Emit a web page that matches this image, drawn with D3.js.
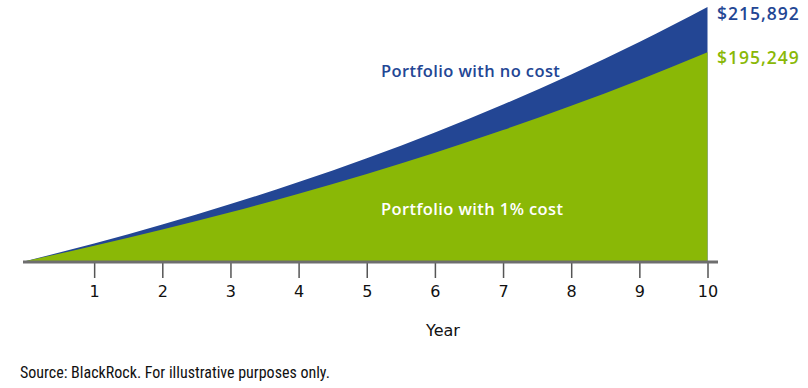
<!DOCTYPE html>
<html>
<head>
<meta charset="utf-8">
<script src="https://cdn.jsdelivr.net/npm/d3@7"></script>
<style>
body { margin: 0; background: #fff; }
svg text { font-family: "Open Sans", "Noto Sans", sans-serif; }
</style>
</head>
<body>
<script>
// portfolio growth with and without cost

var years = [0, 1, 2, 3, 4, 5, 6, 7, 8, 9, 10];
var noCost = [100000, 108000, 116640, 125971, 136049, 146933, 158687, 171382, 185093, 199900, 215892];
var withCost = [100000, 106920, 114319, 122230, 130688, 139732, 149401, 159740, 170794, 182613, 195249];
var tickYears = [1, 2, 3, 4, 5, 6, 7, 8, 9, 10];
var endLabels = ["$215,892", "$195,249"];

var width = 808,
    height = 388;

var svg = d3.select("body")
    .append("svg")
    .attr("width", width)
    .attr("height", height);

var x = d3.scaleLinear()
    .domain([0, 10])
    .range([26, 707.5]);

var y = d3.scaleLinear()
    .domain([100000, 215892])
    .range([261, 7]);

var blue = "#234694",
    green = "#8ab806";

function makeArea(vals){
    return d3.area()
        .x(function(d, i){ return x(years[i]); })
        .y0(y(100000))
        .y1(function(d){ return y(d); })
        .curve(d3.curveMonotoneX)(vals);
}

//blue area first, green on top
svg.append("path")
    .attr("d", makeArea(noCost))
    .attr("fill", blue);

svg.append("path")
    .attr("d", makeArea(withCost))
    .attr("fill", green);

//x axis
var axis = svg.append("g")
    .attr("transform", "translate(0," + 262 + ")")
    .call(d3.axisBottom(x)
        .tickValues(tickYears)
        .tickSize(16)
        .tickPadding(5)
        .tickFormat(d3.format("d")));

axis.select(".domain").remove();
axis.selectAll(".tick line")
    .attr("stroke", "#555")
    .attr("stroke-width", 1.5);
axis.selectAll(".tick text")
    .attr("fill", "#111")
    .style("font-size", "16px")
    .style("font-family", "'DejaVu Sans', sans-serif")
    .attr("dy", "0.9em");

svg.append("line")
    .attr("x1", 23)
    .attr("x2", 718)
    .attr("y1", 262)
    .attr("y2", 262)
    .attr("stroke", "#6e6e6e")
    .attr("stroke-width", 3);

//end value labels
svg.append("text")
    .attr("x", 717)
    .attr("y", 20)
    .attr("fill", blue)
    .style("font-size", "17.5px")
    .style("font-weight", 600)
    .style("letter-spacing", "1px")
    .text(endLabels[0]);

svg.append("text")
    .attr("x", 717)
    .attr("y", 64)
    .attr("fill", green)
    .style("font-size", "17.5px")
    .style("font-weight", 600)
    .style("letter-spacing", "1px")
    .text(endLabels[1]);

//series labels
svg.append("text")
    .attr("x", 381)
    .attr("y", 77)
    .attr("fill", blue)
    .style("font-size", "16.5px")
    .style("font-weight", 600)
    .style("letter-spacing", "0.4px")
    .text("Portfolio with no cost");

svg.append("text")
    .attr("x", 381)
    .attr("y", 215)
    .attr("fill", "#fff")
    .style("font-size", "16.5px")
    .style("font-weight", 600)
    .style("letter-spacing", "0.4px")
    .text("Portfolio with 1% cost");

svg.append("text")
    .attr("x", 443)
    .attr("y", 336)
    .attr("text-anchor", "middle")
    .attr("fill", "#111")
    .style("font-size", "16px")
    .style("font-family", "'DejaVu Sans', sans-serif")
    .text("Year");

svg.append("text")
    .attr("x", 20)
    .attr("y", 378)
    .attr("fill", "#111")
    .style("font-size", "16px")
    .style("font-family", "'Liberation Sans Narrow', 'Roboto Condensed', sans-serif")
    .text("Source: BlackRock. For illustrative purposes only.");
</script>
</body>
</html>
